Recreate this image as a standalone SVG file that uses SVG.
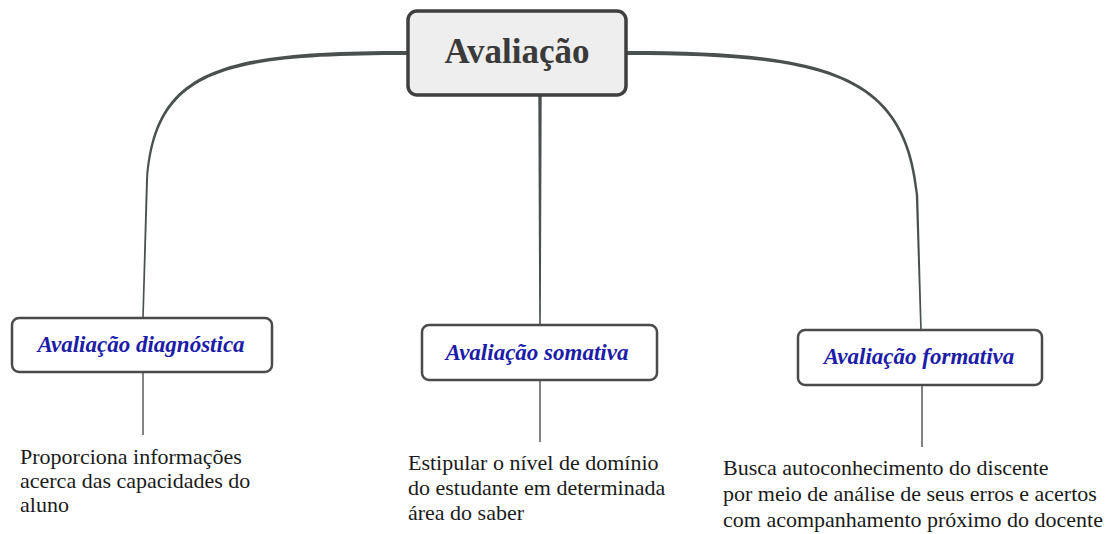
<svg xmlns="http://www.w3.org/2000/svg" width="1117" height="534" viewBox="0 0 1117 534">
<style>
.bg{fill:#ffffff}
.branch{fill:#4a5050;stroke:none}
.leaf{stroke:#5a5a5a;stroke-width:1.5;fill:none}
.root rect{fill:#eeeeee;stroke:#3f3f3f;stroke-width:3.5}
.root text{font-family:"Liberation Serif","Times New Roman",serif;font-weight:bold;font-size:35px;fill:#3a3a3a;text-anchor:middle}
.child rect{fill:#ffffff;stroke:#4a4a4a;stroke-width:2.5}
.child text{font-family:"Liberation Serif","Times New Roman",serif;font-weight:bold;font-style:italic;font-size:23px;fill:#1c1ca8;text-anchor:middle}
.note text{font-family:"Liberation Serif","Times New Roman",serif;font-size:22px;fill:#1a1a1a}
</style>
<rect class="bg" x="0" y="0" width="1117" height="534"/>
<g id="connectors">
<path class="branch" d="M407,51 C220,51 153.5,69 146,180 L142.2,318 L143.8,318 L148,180 C156.5,71 220,55 407,55 Z"/>
<path class="branch" d="M627,51 C830,51 906.5,74 918.2,195 L921.8,330 L920.2,330 L915.8,195 C903.5,76 830,55 627,55 Z"/>
<path class="branch" d="M538.3,95 L541.7,95 L540.8,325 L539.2,325 Z"/>
<line class="leaf" x1="143" y1="372" x2="143" y2="435"/>
<line class="leaf" x1="540" y1="380" x2="540" y2="442"/>
<line class="leaf" x1="922" y1="385" x2="922" y2="447"/>
</g>
<g id="root" class="root">
<rect x="408" y="11" width="218" height="84" rx="9" ry="9"/>
<text x="517" y="63">Avaliação</text>
</g>
<g id="diagnostica" class="child">
<rect x="12" y="318" width="260" height="54" rx="7" ry="7"/>
<text x="141" y="352">Avaliação diagnóstica</text>
</g>
<g id="somativa" class="child">
<rect x="422" y="325" width="235" height="55" rx="7" ry="7"/>
<text x="537" y="360">Avaliação somativa</text>
</g>
<g id="formativa" class="child">
<rect x="798" y="330" width="244" height="55" rx="7" ry="7"/>
<text x="919" y="364">Avaliação formativa</text>
</g>
<g id="note-diagnostica" class="note">
<text x="20" y="464">Proporciona informações</text>
<text x="20" y="488">acerca das capacidades do</text>
<text x="20" y="512">aluno</text>
</g>
<g id="note-somativa" class="note">
<text x="408" y="470">Estipular o nível de domínio</text>
<text x="408" y="495">do estudante em determinada</text>
<text x="408" y="520">área do saber</text>
</g>
<g id="note-formativa" class="note">
<text x="723" y="475">Busca autoconhecimento do discente</text>
<text x="723" y="501">por meio de análise de seus erros e acertos</text>
<text x="723" y="527">com acompanhamento próximo do docente</text>
</g>
</svg>
